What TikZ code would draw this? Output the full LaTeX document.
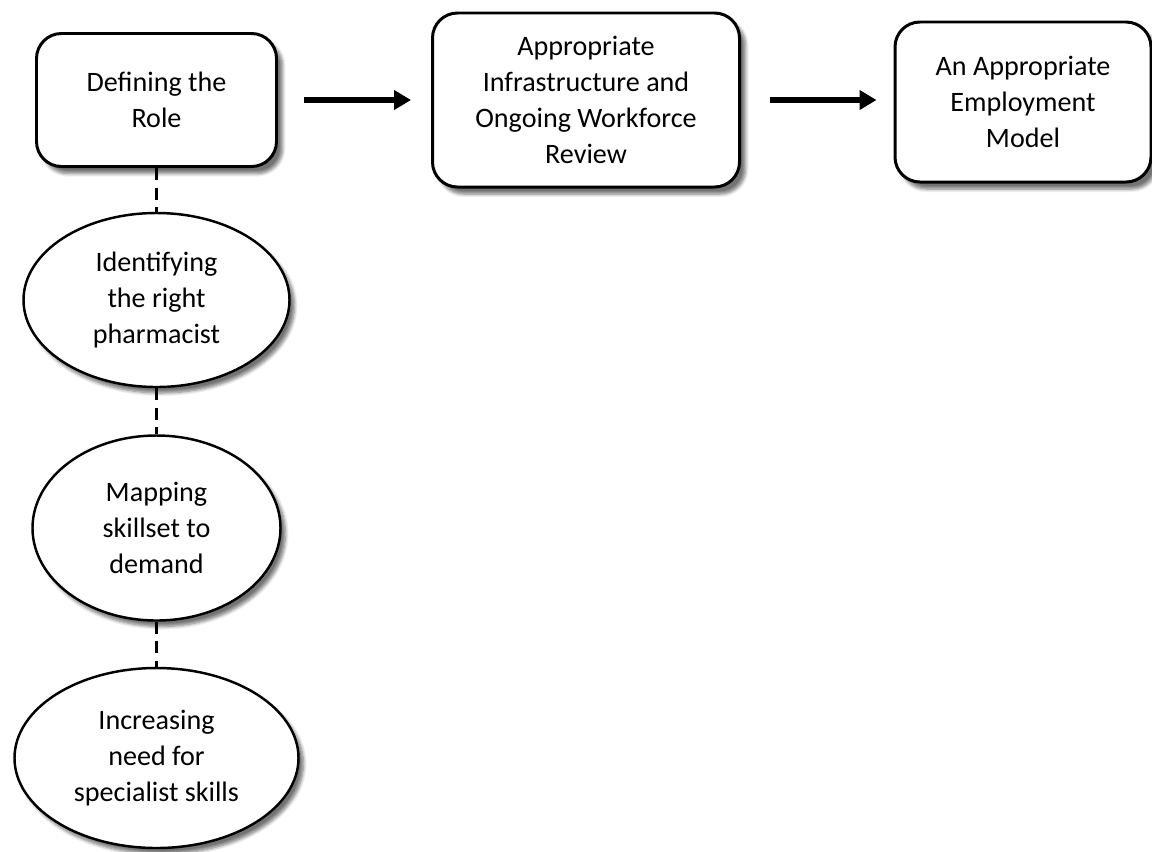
\documentclass[tikz,border=0pt]{standalone}
\usepackage{fontspec}
\setmainfont{Carlito}
\usetikzlibrary{shapes.geometric,arrows.meta,shadows.blur}

\begin{document}
\begin{tikzpicture}[
    font=\fontsize{16}{20.4}\selectfont,
    every node/.style={align=center, inner sep=0pt},
    stage/.style={draw, line width=1.7pt, fill=white, rounded corners=0.5cm,
        blur shadow={shadow xshift=0.12cm, shadow yshift=-0.14cm, shadow blur steps=6, shadow opacity=55}},
    need/.style={draw, ellipse, line width=1.4pt, fill=white,
        blur shadow={shadow xshift=0.1cm, shadow yshift=-0.12cm, shadow blur steps=6, shadow opacity=55}},
    link/.style={line width=2.2pt, dash pattern=on 0.24cm off 0.15cm},
    flow/.style={line width=3.6pt, -{Triangle[length=0.34cm, width=0.38cm]}}
]
            \useasboundingbox (0,0) rectangle (23.04,-17.02);
            \node[stage, minimum width=4.8cm, minimum height=2.66cm] (role) at (3.13,-2.0) {Defining the\\Role};
            \node[stage, minimum width=6.14cm, minimum height=3.48cm] (infra) at (11.72,-2.0) {Appropriate\\Infrastructure and\\Ongoing Workforce\\Review};
            \node[stage, minimum width=5.12cm, minimum height=3.2cm] (model) at (20.46,-2.04) {An Appropriate\\Employment\\Model};
            \node[need, minimum width=5.32cm, minimum height=3.48cm] (right) at (3.13,-6.0) {Identifying\\the right\\pharmacist};
            \node[need, minimum width=4.96cm, minimum height=3.7cm] (skills) at (3.13,-10.56) {Mapping\\skillset to\\demand};
            \node[need, minimum width=5.68cm, minimum height=3.6cm] (special) at (3.13,-15.16) {Increasing\\need for\\specialist skills};
            % dashed links down the left
            \draw[link] (role.south) -- (right.north);
            \draw[link] (right.south) -- (skills.north);
            \draw[link] (skills.south) -- (special.north);
            % arrows along the top
            \draw[flow, shorten <=0.52cm, shorten >=0.4cm] (role.east) -- (infra.west);
            \draw[flow, shorten <=0.58cm, shorten >=0.34cm] (infra.east) -- (infra.east -| model.west);
        \end{tikzpicture}
\end{document}
